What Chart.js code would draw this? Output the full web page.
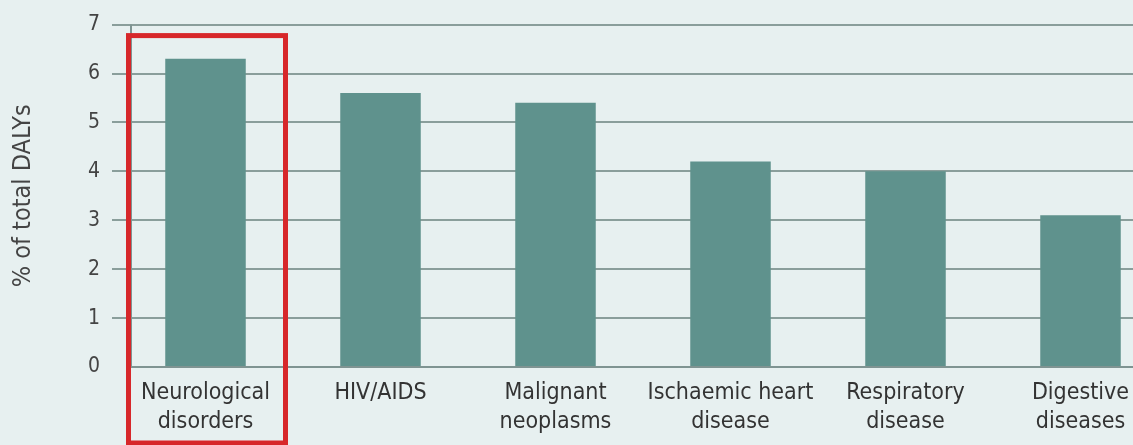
<!DOCTYPE html>
<html>
<head>
<meta charset="utf-8">
<script src="https://cdn.jsdelivr.net/npm/chart.js@4.4.0/dist/chart.umd.min.js"></script>
<style>
  html, body { margin: 0; padding: 0; overflow: hidden; background: #e7f0f0; }
  #wrap { width: 1168px; height: 445px; }
</style>
</head>
<body>
<div id="wrap"><canvas id="dalyChart" width="1168" height="445"></canvas></div>
<script>
// chart data
var categories = [
  ['Neurological', 'disorders'],
  ['HIV/AIDS'],
  ['Malignant', 'neoplasms'],
  ['Ischaemic heart', 'disease'],
  ['Respiratory', 'disease'],
  ['Digestive', 'diseases']
];
var dalyPercent = [6.3, 5.6, 5.4, 4.2, 4.0, 3.1];
var yTicks = [0, 1, 2, 3, 4, 5, 6, 7];
var highlightIndex = 0;

var fontFamily = "'Liberation Sans Narrow', 'DejaVu Sans Condensed', 'Arial Narrow', sans-serif";

// axis lines + red highlight box
var decorPlugin = {
  id: 'decor',
  afterDatasetsDraw: function (chart) {
    var ctx = chart.ctx;
    var area = chart.chartArea;
    var x = chart.scales.x;
    var y = chart.scales.y;
    var axisX = area.left + 13;
    ctx.save();
    ctx.strokeStyle = '#7f9492';
    ctx.lineWidth = 2;
    ctx.beginPath();
    ctx.moveTo(axisX, area.top);
    ctx.lineTo(axisX, y.getPixelForValue(0));
    ctx.moveTo(axisX, y.getPixelForValue(0));
    ctx.lineTo(area.right, y.getPixelForValue(0));
    ctx.stroke();

    // highlight box around first category
    var cx = x.getPixelForValue(highlightIndex);
    ctx.strokeStyle = '#d7272a';
    ctx.lineWidth = 5;
    ctx.strokeRect(cx - 77, area.top + 11, 157, chart.height - area.top - 13);
    ctx.restore();
  }
};

var ctx = document.getElementById('dalyChart').getContext('2d');
var dalyChart = new Chart(ctx, {
  type: 'bar',
  data: {
    labels: categories,
    datasets: [{
      data: dalyPercent,
      backgroundColor: '#5f928d',
      borderWidth: 0,
      categoryPercentage: 1,
      barPercentage: 0.46
    }]
  },
  options: {
    responsive: false,
    animation: false,
    layout: { padding: { top: 12, right: 0, left: 0, bottom: 0 } },
    plugins: {
      legend: { display: false },
      tooltip: { enabled: false }
    },
    scales: {
      x: {
        afterFit: function (scale) { scale.height = 78; },
        grid: { display: false },
        border: { display: false },
        ticks: {
          color: '#333',
          padding: 3,
          maxRotation: 0,
          autoSkip: false,
          font: { family: fontFamily, size: 23, lineHeight: 1.27 }
        }
      },
      y: {
        min: 0,
        max: 7,
        afterFit: function (scale) { scale.width = 118; },
        afterBuildTicks: function (scale) {
          scale.ticks = yTicks.map(function (v) { return { value: v }; });
        },
        border: { display: false },
        grid: {
          color: function (c) { return c.tick && c.tick.value === 0 ? 'rgba(0,0,0,0)' : '#8a9e9b'; },
          lineWidth: 2,
          tickLength: 6,
          tickColor: function (c) { return c.tick && c.tick.value === 0 ? 'rgba(0,0,0,0)' : '#8a9e9b'; }
        },
        ticks: {
          color: '#444',
          padding: 12,
          font: { family: fontFamily, size: 21 }
        },
        title: {
          display: true,
          text: '% of total DALYs',
          color: '#444',
          padding: { top: 8, bottom: 0 },
          font: { family: fontFamily, size: 25 }
        }
      }
    }
  },
  plugins: [decorPlugin]
});
</script>
</body>
</html>
